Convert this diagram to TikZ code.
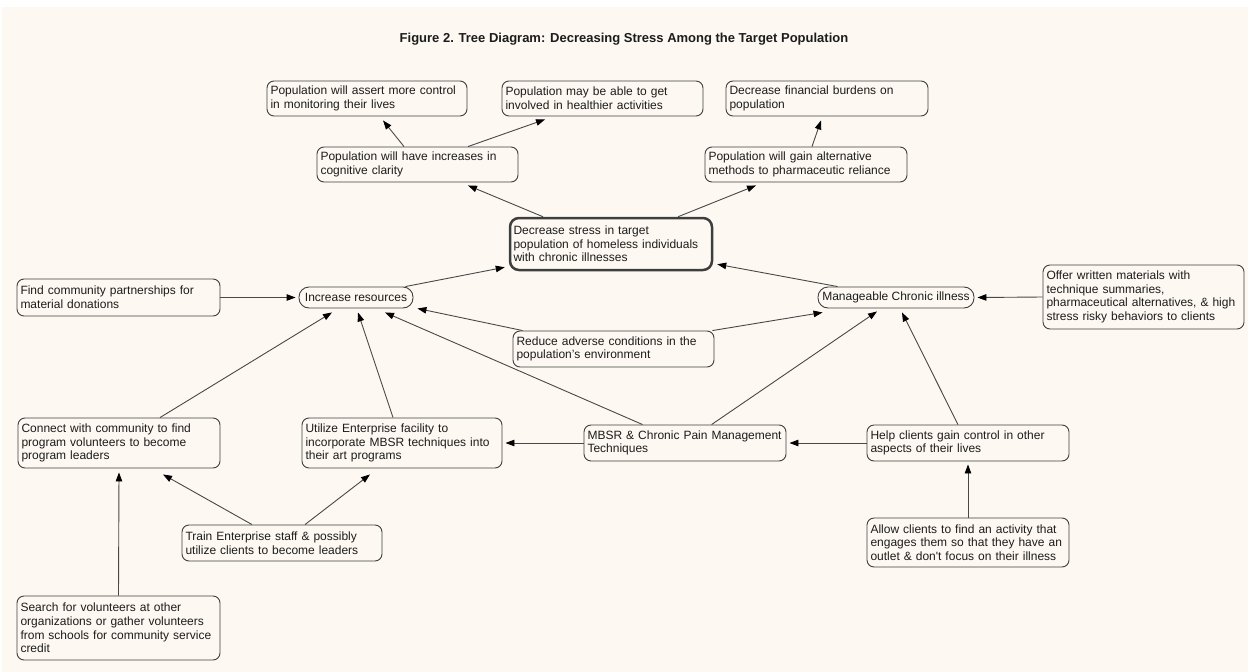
\documentclass[tikz,border=0pt]{standalone}
\usepackage{fontspec}
\setmainfont{Liberation Sans}
\usetikzlibrary{arrows.meta,calc}
\definecolor{bgc}{RGB}{253,249,242}
\definecolor{ink}{RGB}{28,28,28}
\definecolor{edgec}{RGB}{72,72,72}
\begin{document}
\begin{tikzpicture}[x=1pt,y=-1pt,
  box/.style={draw=ink!85, line width=0.9pt, rounded corners=7pt, align=left,
    inner xsep=3.5pt, inner ysep=0pt, text=ink,
    font=\fontsize{12}{13.6}\selectfont},
  goalbox/.style={box, line width=2.5pt, rounded corners=9pt},
  pill/.style={draw=ink!85, line width=0.9pt, rounded corners=10pt, inner xsep=2pt,
    inner ysep=0pt, minimum height=21pt, text=ink, font=\fontsize{12}{13.6}\selectfont},
  conn/.style={draw=edgec, line width=0.9pt,
    -{Triangle[length=9pt,width=6.5pt,color=black]}},
  titlestyle/.style={font=\fontsize{13}{15}\bfseries\selectfont, text=ink, inner sep=0pt}]
\useasboundingbox (0,0) rectangle (1248,672);
\fill[white] (0,0) rectangle (1248,672);
\fill[bgc] (2,7) rectangle (1248,672);

\node[titlestyle] (title) at (624,39) {Figure 2. Tree Diagram: Decreasing Stress Among the Target Population};

\node[box, text width=193pt, minimum height=35pt] (assert) at (367,98.5) {Population will assert more control\\in monitoring their lives};
\node[box, text width=194pt, minimum height=35pt] (healthy) at (602.5,98.5) {Population may be able to get\\involved in healthier activities};
\node[box, text width=195pt, minimum height=35pt] (finance) at (827,98.5) {Decrease financial burdens on\\population};
\node[box, text width=194pt, minimum height=35pt] (cog) at (417.5,164.5) {Population will have increases in\\cognitive clarity};
\node[box, text width=195pt, minimum height=35pt] (alt) at (806,164.5) {Population will gain alternative\\methods to pharmaceutic reliance};
\node[goalbox, text width=195pt, minimum height=52pt] (goal) at (611,244) {Decrease stress in target\\population of homeless individuals\\with chronic illnesses};
\node[box, text width=196pt, minimum height=37pt] (find) at (118.5,297.5) {Find community partnerships for\\material donations};
\node[pill, minimum width=114pt] (incr) at (356,297.5) {Increase resources};
\node[pill, minimum width=156pt] (manage) at (896,297.5) {Manageable Chronic illness};
\node[box, text width=194pt, minimum height=64pt] (offer) at (1143.5,297) {Offer written materials with\\technique summaries,\\pharmaceutical alternatives, \& high\\stress risky behaviors to clients};
\node[box, text width=194pt, minimum height=36pt] (reduce) at (613.5,349) {Reduce adverse conditions in the\\population’s environment};
\node[box, text width=195pt, minimum height=50pt] (connect) at (119,443) {Connect with community to find\\program volunteers to become\\program leaders};
\node[box, text width=193pt, minimum height=50pt] (utilize) at (402,443) {Utilize Enterprise facility to\\incorporate MBSR techniques into\\their art programs};
\node[box, text width=195pt, minimum height=36pt] (mbsr) at (685,443) {MBSR \& Chronic Pain Management\\Techniques};
\node[box, text width=195pt, minimum height=36pt] (help) at (968,443) {Help clients gain control in other\\aspects of their lives};
\node[box, text width=193pt, minimum height=36pt] (train) at (282,543) {Train Enterprise staff \& possibly\\utilize clients to become leaders};
\node[box, text width=195pt, minimum height=49pt] (allow) at (968,542.5) {Allow clients to find an activity that\\engages them so that they have an\\outlet \& don\textquotesingle t focus on their illness};
\node[box, text width=196pt, minimum height=64pt] (search) at (118.5,628) {Search for volunteers at other\\organizations or gather volunteers\\from schools for community service\\credit};

% connectors
\draw[conn] ($(cog.north)+(-13.5,0)$) -- ($(assert.south)+(16,4)$);
\draw[conn] ($(cog.north)+(50.5,0)$) -- ($(healthy.south)+(-57.5,3)$);
\draw[conn] ($(alt.north)+(6,0)$) -- ($(finance.south)+(-6,4)$);
\draw[conn] ($(goal.north)+(-68,0)$) -- ($(cog.south)+(50.5,3)$);
\draw[conn] ($(goal.north)+(67,0)$) -- ($(alt.south)+(-50,3)$);
\draw[conn] ($(incr.north east)+(-8,0)$) -- ($(goal.south west)+(-4,-4)$);
\draw[conn] ($(manage.north west)+(20,0)$) -- ($(goal.south east)+(4,-7)$);
\draw[conn] (find.east) -- ($(incr.west)+(-3,0)$);
\draw[conn] (offer.west) -- ($(manage.east)+(3,0)$);
\draw[conn] ($(reduce.north west)+(10,0)$) -- ($(incr.south east)+(4,0)$);
\draw[conn] ($(reduce.north east)+(-2,0)$) -- ($(manage.south west)+(5,4)$);
\draw[conn] ($(mbsr.north west)+(59,0)$) -- ($(incr.south)+(29,4)$);
\draw[conn] ($(mbsr.north west)+(128,0)$) -- ($(manage.south)+(-19,3)$);
\draw[conn] ($(help.north)+(-10,0)$) -- ($(manage.south)+(6,4)$);
\draw[conn] (mbsr.west) -- ($(utilize.east)+(3,0)$);
\draw[conn] (help.west) -- ($(mbsr.east)+(3,0)$);
\draw[conn] (allow.north) -- ($(help.south)+(0,3)$);
\draw[conn] ($(connect.north)+(41,0)$) -- ($(incr.south)+(-24,4)$);
\draw[conn] ($(utilize.north)+(-9,0)$) -- ($(incr.south)+(2,4)$);
\draw[conn] ($(train.north)+(-30,0)$) -- ($(connect.south)+(44,6)$);
\draw[conn] ($(train.north)+(23,0)$) -- ($(utilize.south)+(-32,6)$);
\draw[conn] (search.north) -- ($(connect.south)+(0,4)$);
\end{tikzpicture}
\end{document}
